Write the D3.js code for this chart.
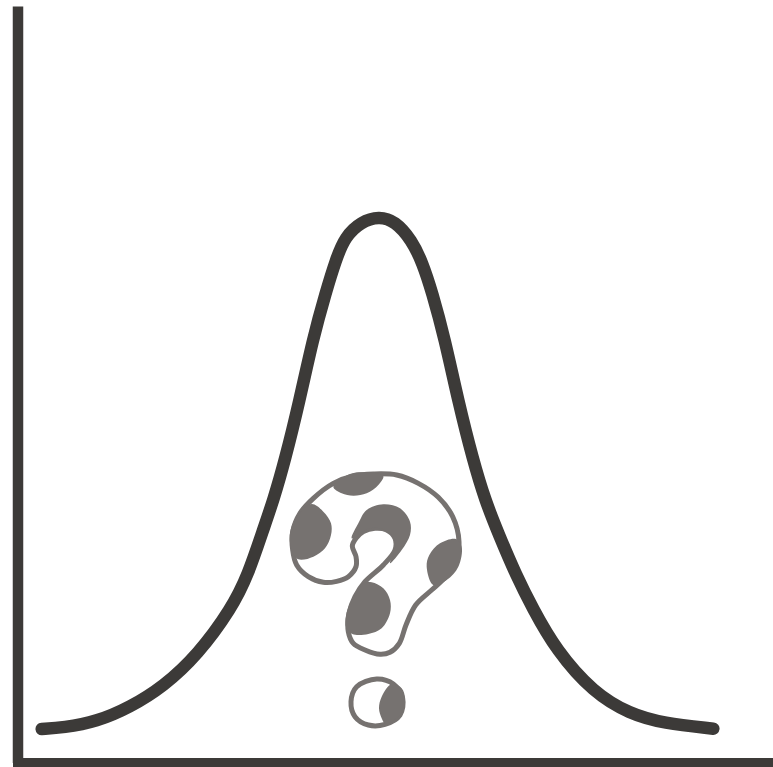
<!DOCTYPE html>
<html>
<head>
<meta charset="utf-8">
<style>
    html, body { margin: 0; padding: 0; background: #ffffff; }
    svg { display: block; }
</style>
<script src="https://cdnjs.cloudflare.com/ajax/libs/d3/7.8.5/d3.min.js"></script>
</head>
<body>
<div id="chart"></div>
<script>
// bell curve, both axes in percent of axis length
var curveX = [3.20, 6.06, 10.48, 14.89, 19.30, 23.85, 28.35, 30.51, 32.50, 33.88, 35.41, 37.30, 39.11, 40.83, 42.12, 43.35, 45.47,
    47.85, 49.97, 52.18, 53.63, 54.86, 56.54, 58.35, 60.29, 61.88, 63.73, 65.98, 68.19, 71.28, 76.22, 81.07, 85.48, 92.10];
var curveY = [4.43, 4.60, 5.39, 7.30, 10.02, 14.21, 20.38, 24.79, 30.73, 34.70, 39.99, 47.69, 56.07, 62.23, 66.42, 69.50, 71.49,
    72.20, 71.58, 69.06, 65.99, 62.23, 56.07, 47.69, 39.99, 34.70, 30.07, 24.79, 20.38, 14.87, 9.23, 6.41, 5.18, 4.47];

// question mark glyph, in its own 630 x 840 drawing units
var glyphOutline = [[310, 42], [380, 45], [445, 70], [505, 112], [548, 170], [567, 245], [555, 315], [520, 358], [485, 390],
    [437, 435], [408, 495], [388, 550], [360, 577], [330, 583], [285, 570], [250, 550], [235, 515], [237, 460], [255, 410],
    [285, 365], [340, 315], [375, 270], [375, 235], [350, 210], [315, 205], [280, 215], [258, 235], [247, 258], [258, 290],
    [258, 320], [235, 350], [200, 364], [160, 367], [115, 350], [80, 315], [68, 270], [68, 215], [90, 160], [130, 115],
    [190, 70], [250, 48]];
var glyphDot = [[320, 657], [370, 672], [398, 715], [390, 765], [345, 793], [295, 795], [255, 770], [243, 725], [260, 680]];
var blobTop = [[190, 80], [215, 100], [250, 107], [290, 100], [325, 75], [340, 48], [300, 38], [240, 42]];
var blobLeft = [[125, 132], [160, 155], [183, 190], [183, 225], [165, 265], [130, 290], [85, 298], [65, 270], [60, 220], [80, 170]];
var blobHook = [[245, 235], [265, 190], [290, 150], [340, 133], [390, 145], [420, 185], [420, 225], [395, 270], [360, 310],
    [375, 265], [372, 235], [350, 212], [315, 203], [280, 212], [258, 232]];
var blobRight = [[558, 237], [510, 250], [478, 285], [470, 320], [490, 375], [530, 360], [565, 320], [575, 260]];
var blobLower = [[305, 367], [340, 385], [360, 420], [360, 460], [335, 505], [295, 522], [247, 522], [228, 500], [232, 450], [255, 405], [280, 370]];
var blobDot = [[365, 672], [335, 710], [327, 745], [335, 775], [345, 790], [390, 765], [405, 720], [395, 685]];

var totalWidth = 773,
    totalHeight = 767;

var darkInk = "#3c3a38",
    greyInk = "#767270";

var xScale = d3.scaleLinear().domain([0, 100]).range([17.5, 773]),
    yScale = d3.scaleLinear().domain([0, 100]).range([762.5, 6]);

var glyphX = d3.scaleLinear().domain([0, 630]).range([270, 480]),
    glyphY = d3.scaleLinear().domain([0, 840]).range([460, 740]);

var svg = d3.select("#chart").append("svg")
    .attr("width", totalWidth)
    .attr("height", totalHeight);

// axes have no ticks, just the two thick lines
var xAxis = d3.axisBottom(xScale).tickValues([]).tickSizeOuter(0),
    yAxis = d3.axisLeft(yScale).tickValues([]).tickSizeOuter(0);

svg.append("g")
    .attr("transform", "translate(0," + yScale(0) + ")")
    .call(xAxis)
    .select(".domain")
    .attr("stroke", darkInk)
    .attr("stroke-width", 10)
    .attr("stroke-linecap", "square");

svg.append("g")
    .attr("transform", "translate(" + xScale(0) + ",0)")
    .call(yAxis)
    .select(".domain")
    .attr("stroke", darkInk)
    .attr("stroke-width", 10.5);

var curveLine = d3.line()
    .x(function(d) { return xScale(d[0]); })
    .y(function(d) { return yScale(d[1]); })
    .curve(d3.curveBasis);

svg.append("path")
    .datum(curveX.map(function(x, i) { return [x, curveY[i]]; }))
    .attr("fill", "none")
    .attr("stroke", darkInk)
    .attr("stroke-width", 12.5)
    .attr("stroke-linecap", "round")
    .attr("d", curveLine);

var glyphLine = d3.line()
    .x(function(d) { return glyphX(d[0]); })
    .y(function(d) { return glyphY(d[1]); })
    .curve(d3.curveCatmullRomClosed.alpha(0.5));

svg.selectAll("path.outline")
    .data([glyphOutline, glyphDot])
    .enter().append("path")
    .attr("class", "outline")
    .attr("fill", "#ffffff")
    .attr("stroke", greyInk)
    .attr("stroke-width", 5)
    .attr("stroke-linejoin", "round")
    .attr("d", glyphLine);

svg.selectAll("path.blob")
    .data([blobTop, blobLeft, blobHook, blobRight, blobLower, blobDot])
    .enter().append("path")
    .attr("class", "blob")
    .attr("fill", greyInk)
    .attr("d", glyphLine);
</script>
</body>
</html>
